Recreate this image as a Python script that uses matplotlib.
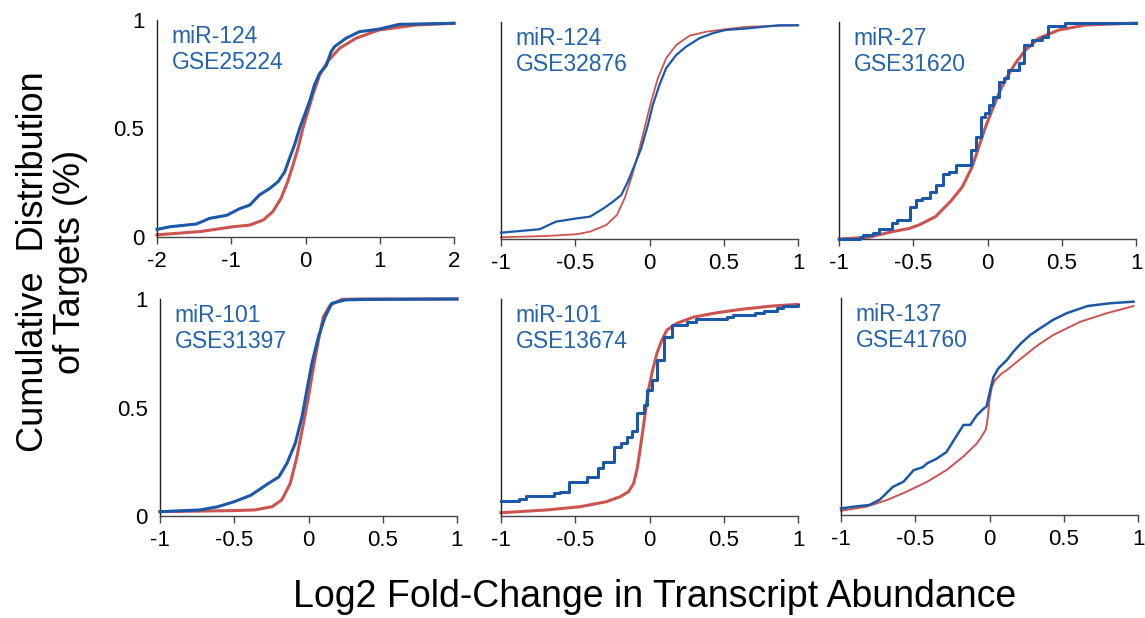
import matplotlib
matplotlib.use("Agg")
import matplotlib.pyplot as plt

plt.rcParams['font.family'] = ['Liberation Sans', 'DejaVu Sans']

# --- data (x = log2 fold change, y = cumulative fraction) ---
# miR-124 / GSE25224
p1_blue_x = [-2, -1.83, -1.47, -1.29, -1.06, -0.89, -0.75, -0.62, -0.48, -0.37, -0.28, -0.215,
             -0.148, -0.08, -0.013, 0.054, 0.12, 0.19, 0.28, 0.345, 0.39, 0.546, 0.725, 0.99,
             1.26, 2]
p1_blue_y = [0.035, 0.047, 0.06, 0.086, 0.10, 0.13, 0.147, 0.194, 0.224, 0.255, 0.30, 0.363,
             0.424, 0.50, 0.562, 0.624, 0.70, 0.754, 0.79, 0.854, 0.877, 0.916, 0.946, 0.958,
             0.98, 0.985]
p1_red_x = [-2, -1.42, -0.98, -0.75, -0.57, -0.44, -0.33, -0.24, -0.17, -0.10, -0.036, 0.031,
            0.098, 0.19, 0.30, 0.46, 0.68, 0.99, 1.49, 2]
p1_red_y = [0.01, 0.025, 0.047, 0.055, 0.078, 0.117, 0.178, 0.255, 0.33, 0.41, 0.50, 0.577,
            0.654, 0.746, 0.81, 0.87, 0.916, 0.954, 0.977, 0.985]

# miR-124 / GSE32876
p2_blue_x = [-1, -0.74, -0.63, -0.49, -0.40, -0.31, -0.246, -0.19, -0.146, -0.10, -0.056,
             -0.011, 0.022, 0.067, 0.112, 0.18, 0.246, 0.336, 0.425, 0.51, 0.65, 0.87, 1]
p2_blue_y = [0.029, 0.045, 0.08, 0.095, 0.103, 0.141, 0.172, 0.203, 0.264, 0.341, 0.418,
             0.525, 0.617, 0.71, 0.787, 0.848, 0.886, 0.925, 0.948, 0.963, 0.97, 0.985, 0.985]
p2_red_x = [-1, -0.69, -0.49, -0.40, -0.29, -0.22, -0.168, -0.123, -0.078, -0.034, 0.011,
            0.056, 0.112, 0.18, 0.27, 0.38, 0.47, 0.65, 1]
p2_red_y = [0.008, 0.014, 0.022, 0.034, 0.065, 0.11, 0.187, 0.28, 0.387, 0.51, 0.633,
            0.74, 0.833, 0.894, 0.937, 0.955, 0.963, 0.978, 0.985]

# miR-27 / GSE31620
p3_blue_x = [-1, -0.86, -0.84, -0.77, -0.73, -0.66, -0.64, -0.61, -0.54, -0.52, -0.48, -0.44,
             -0.39, -0.35, -0.30, -0.26, -0.21, -0.15, -0.11, -0.08, -0.047, -0.02, 0.01, 0.04,
             0.075, 0.11, 0.14, 0.21, 0.245, 0.30, 0.37, 0.41, 0.50, 0.52, 1]
p3_blue_y = [0, 0.008, 0.02, 0.026, 0.045, 0.045, 0.072, 0.086, 0.086, 0.149, 0.18, 0.187,
             0.218, 0.249, 0.30, 0.31, 0.34, 0.34, 0.41, 0.47, 0.56, 0.58, 0.617, 0.656,
             0.725, 0.74, 0.779, 0.81, 0.894, 0.917, 0.932, 0.983, 0.983, 0.994, 0.995]
p3_red_x = [-1, -0.80, -0.64, -0.53, -0.46, -0.35, -0.24, -0.17, -0.103, -0.058, -0.013,
            0.031, 0.076, 0.12, 0.188, 0.255, 0.344, 0.48, 0.66, 1]
p3_red_y = [0, 0.008, 0.034, 0.048, 0.065, 0.103, 0.18, 0.24, 0.333, 0.425, 0.517,
            0.594, 0.67, 0.733, 0.81, 0.87, 0.925, 0.963, 0.986, 0.995]

# miR-101 / GSE31397
p4_blue_x = [-1, -0.73, -0.61, -0.50, -0.39, -0.27, -0.20, -0.145, -0.089, -0.044, -0.011,
             0.023, 0.067, 0.112, 0.157, 0.25, 0.40, 1]
p4_blue_y = [0.02, 0.028, 0.043, 0.066, 0.095, 0.15, 0.18, 0.243, 0.335, 0.457, 0.58,
             0.704, 0.826, 0.918, 0.98, 0.996, 0.998, 1.0]
p4_red_x = [-1, -0.50, -0.36, -0.245, -0.18, -0.123, -0.078, -0.034, 0, 0.034, 0.067, 0.10,
            0.146, 0.224, 0.34, 1]
p4_red_y = [0.02, 0.025, 0.028, 0.043, 0.074, 0.15, 0.273, 0.427, 0.55, 0.688, 0.81, 0.918,
            0.972, 0.998, 1.0, 1.0]

# miR-101 / GSE13674
p5_blue_x = [-1, -0.89, -0.88, -0.83, -0.67, -0.64, -0.60, -0.54, -0.45, -0.42, -0.38, -0.35,
             -0.31, -0.28, -0.24, -0.19, -0.15, -0.12, -0.085, -0.04, -0.015, 0.015, 0.05,
             0.095, 0.15, 0.25, 0.31, 0.52, 0.56, 0.71, 0.77, 0.86, 0.90, 1]
p5_blue_y = [0.07, 0.07, 0.08, 0.092, 0.092, 0.105, 0.112, 0.158, 0.158, 0.18, 0.18, 0.22,
             0.25, 0.25, 0.32, 0.335, 0.365, 0.39, 0.473, 0.51, 0.58, 0.627, 0.72,
             0.826, 0.88, 0.895, 0.91, 0.915, 0.926, 0.935, 0.947, 0.958, 0.968, 0.972]
p5_red_x = [-1, -0.69, -0.465, -0.29, -0.197, -0.141, -0.107, -0.085, -0.067, -0.051, -0.029,
            -0.007, 0.016, 0.05, 0.083, 0.117, 0.184, 0.295, 0.43, 0.61, 0.83, 1]
p5_red_y = [0.015, 0.028, 0.043, 0.066, 0.089, 0.112, 0.15, 0.212, 0.289, 0.365, 0.473,
            0.58, 0.658, 0.75, 0.81, 0.857, 0.888, 0.916, 0.934, 0.952, 0.968, 0.975]

# miR-137 / GSE41760
p6_blue_x = [-1, -0.92, -0.81, -0.74, -0.65, -0.58, -0.51, -0.45, -0.42, -0.355, -0.29, -0.24,
             -0.175, -0.13, -0.085, -0.04, -0.02, 0.005, 0.027, 0.06, 0.117, 0.16, 0.21, 0.275,
             0.34, 0.43, 0.52, 0.66, 0.815, 0.97]
p6_blue_y = [0.03, 0.038, 0.046, 0.07, 0.13, 0.153, 0.207, 0.22, 0.238, 0.26, 0.29, 0.345,
             0.415, 0.415, 0.46, 0.49, 0.50, 0.576, 0.637, 0.676, 0.714, 0.752, 0.79, 0.83,
             0.86, 0.90, 0.93, 0.963, 0.976, 0.983]
p6_red_x = [-1, -0.83, -0.69, -0.56, -0.42, -0.29, -0.175, -0.085, -0.051, -0.024, -0.011, 0,
            0.016, 0.038, 0.084, 0.117, 0.21, 0.32, 0.43, 0.61, 0.79, 0.97]
p6_red_y = [0.02, 0.038, 0.069, 0.107, 0.153, 0.207, 0.27, 0.33, 0.364, 0.395, 0.453, 0.53,
            0.59, 0.622, 0.653, 0.668, 0.72, 0.78, 0.83, 0.89, 0.93, 0.963]

labels = ['miR-124\nGSE25224', 'miR-124\nGSE32876', 'miR-27\nGSE31620',
          'miR-101\nGSE31397', 'miR-101\nGSE13674', 'miR-137\nGSE41760']
xlims = [(-2, 2), (-1, 1), (-1, 1), (-1, 1), (-1, 1), (-1, 1)]
xticks = [[-2, -1, 0, 1, 2]] + [[-1, -0.5, 0, 0.5, 1]] * 5
xticklabels = [['-2', '-1', '0', '1', '2']] + [['-1', '-0.5', '0', '0.5', '1']] * 5

blue_data = [(p1_blue_x, p1_blue_y), (p2_blue_x, p2_blue_y), (p3_blue_x, p3_blue_y),
             (p4_blue_x, p4_blue_y), (p5_blue_x, p5_blue_y), (p6_blue_x, p6_blue_y)]
red_data = [(p1_red_x, p1_red_y), (p2_red_x, p2_red_y), (p3_red_x, p3_red_y),
            (p4_red_x, p4_red_y), (p5_red_x, p5_red_y), (p6_red_x, p6_red_y)]
steppy = [False, False, True, False, True, False]

BLUE = '#1c58a8'
RED = '#cc5450'
TXT_BLUE = '#2563ad'

W, H = 1145, 618
fig = plt.figure(figsize=(W / 100, H / 100), dpi=100)

# axes boxes in pixels: left, y of zero line, y of one line
boxes = [(157, 237, 20), (501, 239, 22), (839, 239, 22),
         (160, 516, 299), (501, 516, 299), (841, 515, 298)]
lw_blue = [2.2, 1.6, 2.2, 2.2, 2.2, 1.8]
lw_red = [2.2, 1.3, 2.2, 2.2, 2.2, 1.4]

for i, (left, y0, y1) in enumerate(boxes):
    ax = fig.add_axes([left / W, 1 - y0 / H, 297 / W, (y0 - y1) / H])
    ax.set_xlim(*xlims[i])
    ax.set_ylim(0, 1)

    bx, by = blue_data[i]
    rx, ry = red_data[i]
    ax.plot(rx, ry, color=RED, lw=lw_red[i], clip_on=False, zorder=2)
    ax.plot(bx, by, color=BLUE, lw=lw_blue[i], clip_on=False, zorder=3,
            drawstyle='steps-post' if steppy[i] else 'default')

    ax.text(0.05, 0.975, labels[i], transform=ax.transAxes, ha='left', va='top',
            fontsize=16.5, color=TXT_BLUE, linespacing=1.15)

    for s in ['top', 'right']:
        ax.spines[s].set_visible(False)
    ax.spines['left'].set_color('#222222')
    ax.spines['bottom'].set_color('#444444')
    ax.spines['left'].set_linewidth(1.0)
    ax.spines['bottom'].set_linewidth(1.0)

    ax.set_xticks(xticks[i])
    ax.set_xticklabels(xticklabels[i])
    ax.tick_params(axis='x', direction='out', length=5, width=1, color='#444444',
                   pad=5, labelsize=16)
    if i % 3 == 0:
        ax.set_yticks([0, 0.5, 1])
        ax.set_yticklabels(['0', '0.5', '1'])
        ax.tick_params(axis='y', length=0, pad=9, labelsize=16)
    else:
        ax.set_yticks([])

fig.text(52 / W, 1 - 262 / H, 'Cumulative  Distribution\nof Targets (%)', rotation=90,
         ha='center', va='center', fontsize=26, linespacing=1.1)
fig.text(655 / W, 1 - 597 / H, 'Log2 Fold-Change in Transcript Abundance',
         ha='center', va='center', fontsize=27)

fig.savefig('out.png', dpi=100)
